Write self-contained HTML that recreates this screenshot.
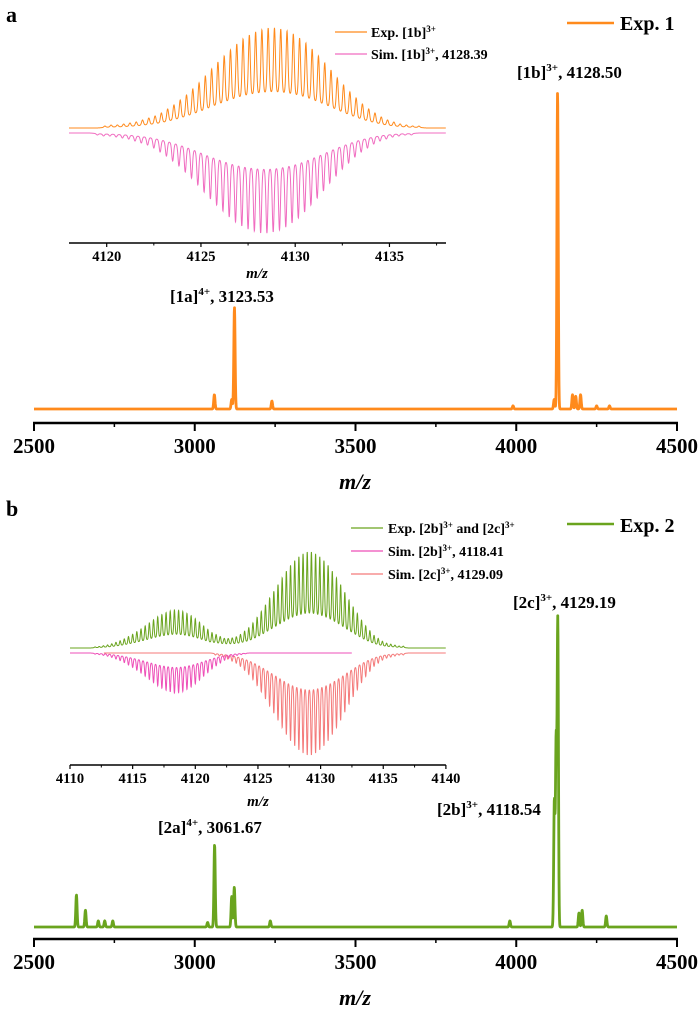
<!DOCTYPE html>
<html><head><meta charset="utf-8"><style>
html,body{margin:0;padding:0;background:#fff}
svg{display:block;font-family:"Liberation Serif",serif}
</style></head><body>
<svg id="fig" width="700" height="1011" viewBox="0 0 700 1011" xmlns="http://www.w3.org/2000/svg">
<g id="panelA">
<text x="6" y="22" font-size="22" font-weight="bold">a</text>
<line x1="567" y1="23" x2="614" y2="23" stroke="#ff8a1c" stroke-width="2.5"/>
<text x="620" y="30" font-size="20" font-weight="bold">Exp. 1</text>
<text x="517" y="78" font-size="17" font-weight="bold">[1b]<tspan dy="-7" font-size="11">3+</tspan><tspan dy="7">, 4128.50</tspan></text>
<text x="170" y="302" font-size="17" font-weight="bold">[1a]<tspan dy="-7" font-size="11">4+</tspan><tspan dy="7">, 3123.53</tspan></text>
<line x1="335" y1="32" x2="367" y2="32" stroke="#ff8a1c" stroke-width="1.2"/>
<text x="371" y="37" font-size="14" font-weight="bold">Exp. [1b]<tspan dy="-5" font-size="9">3+</tspan></text>
<line x1="335" y1="54" x2="367" y2="54" stroke="#f06cc0" stroke-width="1.2"/>
<text x="371" y="59" font-size="14" font-weight="bold">Sim. [1b]<tspan dy="-5" font-size="9">3+</tspan><tspan dy="5">, 4128.39</tspan></text>
<text x="257" y="278" font-size="15" font-weight="bold" font-style="italic" text-anchor="middle">m/z</text>
<text x="355" y="489" font-size="22" font-weight="bold" font-style="italic" text-anchor="middle">m/z</text>
</g>
<g id="panelB">
<text x="6" y="516" font-size="22" font-weight="bold">b</text>
<line x1="567" y1="524" x2="614" y2="524" stroke="#6aa41e" stroke-width="2.5"/>
<text x="620" y="532" font-size="20" font-weight="bold">Exp. 2</text>
<line x1="351" y1="528" x2="383" y2="528" stroke="#6aa41e" stroke-width="1.2"/>
<text x="388" y="533" font-size="14" font-weight="bold">Exp. [2b]<tspan dy="-5" font-size="9">3+</tspan><tspan dy="5"> and [2c]</tspan><tspan dy="-5" font-size="9">3+</tspan></text>
<line x1="351" y1="551" x2="383" y2="551" stroke="#ee4fb8" stroke-width="1.2"/>
<text x="388" y="556" font-size="14" font-weight="bold">Sim. [2b]<tspan dy="-5" font-size="9">3+</tspan><tspan dy="5">, 4118.41</tspan></text>
<line x1="351" y1="574" x2="383" y2="574" stroke="#f47a7a" stroke-width="1.2"/>
<text x="388" y="579" font-size="14" font-weight="bold">Sim. [2c]<tspan dy="-5" font-size="9">3+</tspan><tspan dy="5">, 4129.09</tspan></text>
<text x="513" y="608" font-size="17" font-weight="bold">[2c]<tspan dy="-7" font-size="11">3+</tspan><tspan dy="7">, 4129.19</tspan></text>
<text x="437" y="815" font-size="17" font-weight="bold">[2b]<tspan dy="-7" font-size="11">3+</tspan><tspan dy="7">, 4118.54</tspan></text>
<text x="158" y="833" font-size="17" font-weight="bold">[2a]<tspan dy="-7" font-size="11">4+</tspan><tspan dy="7">, 3061.67</tspan></text>
<text x="258" y="806" font-size="15" font-weight="bold" font-style="italic" text-anchor="middle">m/z</text>
<text x="355" y="1005" font-size="22" font-weight="bold" font-style="italic" text-anchor="middle">m/z</text>
</g>
</svg>
<script>
// ---- data ----
const mainTicks = [2500, 3000, 3500, 4000, 4500];
const mainMinorTicks = [2750, 3250, 3750, 4250];
const mainAPeakMz = [3061, 3115, 3123.5, 3240, 3990, 4118, 4128.5, 4175, 4185, 4200, 4250, 4290];
const mainAPeakInt = [4.5, 3, 32, 2.5, 1, 3, 100, 4.5, 4, 4.5, 1, 1];
const mainBPeakMz = [2632, 2660, 2700, 2720, 2745, 3040, 3061.7, 3115, 3123, 3235, 3980, 4118.5, 4124, 4129.2, 4195, 4205, 4280];
const mainBPeakInt = [10.5, 5.5, 2, 2, 2, 1.5, 27, 10, 13, 2, 2, 41, 60, 100, 4.6, 5.5, 3.6];
const insetATicks = [4120, 4125, 4130, 4135];
const insetAMinor = [4122.5, 4127.5, 4132.5, 4137.5];
const insetBTicks = [4110, 4115, 4120, 4125, 4130, 4135, 4140];
const insetBMinor = [4112.5, 4117.5, 4122.5, 4127.5, 4132.5, 4137.5];
const iso1bStart = 4119.9;
const iso1bExp = [2,3,3,4,5,6,8,10,12,15,19,23,28,33,39,45,52,59,66,72,78,84,89,93,96,98,100,100,99,97,94,90,85,79,72,65,58,50,43,36,30,24,19,15,11,8,6,4,3,2,2];
const iso1bSimStart = 4119.5;
const iso1bSim = [2,3,3,4,5,6,8,10,12,15,19,23,28,33,39,45,52,59,66,72,78,84,89,93,96,98,100,100,99,97,94,90,85,79,72,65,58,50,43,36,30,24,19,15,11,8,6,4,3,2,2];
const iso2bStart = 4112.0;
const iso2b = [3,4,6,8,11,15,19,24,30,36,43,50,58,66,74,82,88,93,97,100,99,96,91,85,77,68,58,49,40,32,25,18,13,9,6,4,2];
const iso2cStart = 4121.6;
const iso2c = [2,3,4,6,8,10,13,17,21,26,32,38,45,52,59,66,73,80,86,91,95,98,100,100,98,95,91,86,80,73,66,58,50,43,36,29,23,18,13,10,7,5,4,3,2,2];
const expScale2b = 38, expScale2c = 96, simScale2b = 40, simScale2c = 102;

const NS = "http://www.w3.org/2000/svg";
const svg = document.getElementById('fig');
function mk(tag, attrs, parent){const e=document.createElementNS(NS,tag);for(const k in attrs)e.setAttribute(k,attrs[k]);(parent||svg).appendChild(e);return e;}

const xMain = m => 34 + (m-2500)*(643/2000);
const xA = m => 69 + (m-4118)*18.85;
const xB = m => 70 + (m-4110)*12.53;

function mainSignal(m, mz, ints){let s=0;for(let i=0;i<mz.length;i++){const d=(m-mz[i])/2.8;s+=ints[i]*Math.exp(-d*d);}return s;}
function drawMain(g, mz, ints, base, hmax, color, name){
  let pts=[];for(let px=34;px<=677;px+=0.25){const m=2500+(px-34)*2000/643;pts.push(px.toFixed(2)+','+(base-hmax*mainSignal(m,mz,ints)/100).toFixed(2));}
  const p=mk('polyline',{points:pts.join(' '),fill:'none',stroke:color,'stroke-width':2.8,'stroke-linejoin':'round'},g);
  
  
}
function drawMainAxis(g, y, name){
  const l=mk('line',{x1:33,y1:y,x2:678,y2:y,stroke:'#000','stroke-width':2.5},g);
  
  
  mainTicks.forEach(t=>{
    mk('line',{x1:xMain(t),y1:y,x2:xMain(t),y2:y+8,stroke:'#000','stroke-width':2},g);
    const tx=mk('text',{x:xMain(t),y:y+30,'font-size':21,'font-weight':'bold','text-anchor':'middle'},g);tx.textContent=t;
    
    
  });
  mainMinorTicks.forEach(t=>mk('line',{x1:xMain(t),y1:y,x2:xMain(t),y2:y+4,stroke:'#000','stroke-width':1.5},g));
}
function isoSignal(m, start, arr){let s=0;for(let i=0;i<arr.length;i++){const c=start+i/3;const d1=(m-c)/0.07,d2=(m-c)/0.25;if(Math.abs(m-c)>1.2)continue;s+=arr[i]*(0.7*Math.exp(-d1*d1)+0.3*Math.exp(-d2*d2));}return s/110;}
function drawInsetLine(g, xf, m0, m1, fn, color, name){
  let pts=[];const step=0.01;for(let m=m0;m<=m1;m+=step){pts.push(xf(m).toFixed(2)+','+fn(m).toFixed(2));}
  const p=mk('polyline',{points:pts.join(' '),fill:'none',stroke:color,'stroke-width':1},g);
  
  
}
function drawInsetAxis(g, xf, m0, m1, y, ticks, minor, name){
  const l=mk('line',{x1:xf(m0),y1:y,x2:xf(m1),y2:y,stroke:'#000','stroke-width':1.6},g);
  
  
  ticks.forEach(t=>{
    mk('line',{x1:xf(t),y1:y,x2:xf(t),y2:y+4,stroke:'#000','stroke-width':1.2},g);
    const tx=mk('text',{x:xf(t),y:y+18,'font-size':14.5,'font-weight':'bold','text-anchor':'middle'},g);tx.textContent=t;
    
    
  });
  minor.forEach(t=>mk('line',{x1:xf(t),y1:y,x2:xf(t),y2:y+2.5,stroke:'#000','stroke-width':1},g));
}
const gA=document.getElementById('panelA'), gB=document.getElementById('panelB');
// Panel a
drawMain(gA, mainAPeakMz, mainAPeakInt, 409, 317, '#ff8a1c', 'main-a-spectrum');
drawMainAxis(gA, 423, 'main-a-x-axis');
drawInsetLine(gA, xA, 4118, 4138, m=>128-100*isoSignal(m,iso1bStart,iso1bExp), '#ff8a1c', 'inset-a-exp-trace');
drawInsetLine(gA, xA, 4118, 4138, m=>133+100*isoSignal(m,iso1bSimStart,iso1bSim), '#f06cc0', 'inset-a-sim-trace');
drawInsetAxis(gA, xA, 4118, 4138, 243, insetATicks, insetAMinor, 'inset-a-x-axis');
// Panel b
drawMain(gB, mainBPeakMz, mainBPeakInt, 927, 305, '#6aa41e', 'main-b-spectrum');
drawMainAxis(gB, 939, 'main-b-x-axis');
drawInsetLine(gB, xB, 4110, 4140, m=>648-expScale2b*isoSignal(m,iso2bStart,iso2b)-expScale2c*isoSignal(m,iso2cStart,iso2c), '#6aa41e', 'inset-b-exp-trace');
drawInsetLine(gB, xB, 4112.7, 4140, m=>653+simScale2c*isoSignal(m,iso2cStart,iso2c), '#f47a7a', 'inset-b-sim-2c-trace');
drawInsetLine(gB, xB, 4110, 4132.5, m=>653+simScale2b*isoSignal(m,iso2bStart,iso2b), '#ee4fb8', 'inset-b-sim-2b-trace');
drawInsetAxis(gB, xB, 4110, 4140, 765, insetBTicks, insetBMinor, 'inset-b-x-axis');
</script>
</body></html>
